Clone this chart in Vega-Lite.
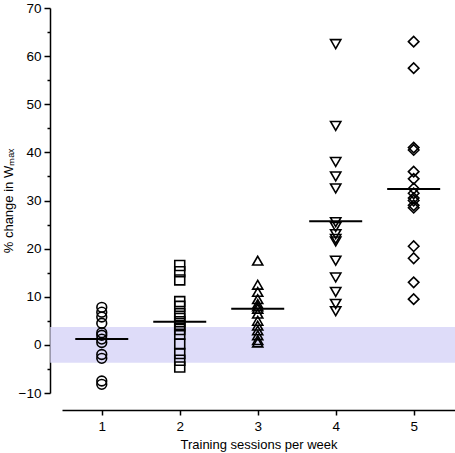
{
  "$schema": "https://vega.github.io/schema/vega-lite/v6.json",
  "width": 393,
  "height": 385,
  "autosize": {"type": "none"},
  "padding": {"left": 62, "top": 8, "right": 0, "bottom": 60},
  "background": "white",
  "config": {
    "view": {"stroke": null},
    "axis": {"labelFont": "Liberation Sans", "titleFont": "Liberation Sans", "labelFontSize": 13.5, "titleFontSize": 13, "titleFontWeight": "normal", "labelColor": "black", "titleColor": "black", "domainColor": "black", "tickColor": "black", "domainWidth": 1.5, "tickWidth": 1.5, "grid": false}
  },
  "datasets": {
    "pts": [
      {"s": 1, "g": "1", "v": 7.8}, {"s": 1, "g": "1", "v": 6.8}, {"s": 1, "g": "1", "v": 5.8}, {"s": 1, "g": "1", "v": 4.5},
      {"s": 1, "g": "1", "v": 2.5}, {"s": 1, "g": "1", "v": 2.0}, {"s": 1, "g": "1", "v": 1.2}, {"s": 1, "g": "1", "v": 0.5},
      {"s": 1, "g": "1", "v": -2.0}, {"s": 1, "g": "1", "v": -2.8}, {"s": 1, "g": "1", "v": -7.5}, {"s": 1, "g": "1", "v": -8.2},
      {"s": 2, "g": "2", "v": 16.5}, {"s": 2, "g": "2", "v": 15.2}, {"s": 2, "g": "2", "v": 13.5}, {"s": 2, "g": "2", "v": 9.0},
      {"s": 2, "g": "2", "v": 8.0}, {"s": 2, "g": "2", "v": 6.5}, {"s": 2, "g": "2", "v": 5.5}, {"s": 2, "g": "2", "v": 4.8},
      {"s": 2, "g": "2", "v": 4.0}, {"s": 2, "g": "2", "v": 3.2}, {"s": 2, "g": "2", "v": 2.2}, {"s": 2, "g": "2", "v": 0.2},
      {"s": 2, "g": "2", "v": -1.8}, {"s": 2, "g": "2", "v": -3.2}, {"s": 2, "g": "2", "v": -4.6},
      {"s": 3, "g": "3", "v": 17.5}, {"s": 3, "g": "3", "v": 12.5}, {"s": 3, "g": "3", "v": 11.0}, {"s": 3, "g": "3", "v": 9.5},
      {"s": 3, "g": "3", "v": 8.5}, {"s": 3, "g": "3", "v": 8.0}, {"s": 3, "g": "3", "v": 7.5}, {"s": 3, "g": "3", "v": 6.5},
      {"s": 3, "g": "3", "v": 5.0}, {"s": 3, "g": "3", "v": 4.0}, {"s": 3, "g": "3", "v": 3.0}, {"s": 3, "g": "3", "v": 2.0},
      {"s": 3, "g": "3", "v": 1.0}, {"s": 3, "g": "3", "v": 0.5},
      {"s": 4, "g": "4", "v": 62.5}, {"s": 4, "g": "4", "v": 45.5}, {"s": 4, "g": "4", "v": 38.0}, {"s": 4, "g": "4", "v": 35.0},
      {"s": 4, "g": "4", "v": 32.5}, {"s": 4, "g": "4", "v": 25.5}, {"s": 4, "g": "4", "v": 24.5}, {"s": 4, "g": "4", "v": 23.0},
      {"s": 4, "g": "4", "v": 22.0}, {"s": 4, "g": "4", "v": 21.5}, {"s": 4, "g": "4", "v": 17.5}, {"s": 4, "g": "4", "v": 14.0},
      {"s": 4, "g": "4", "v": 11.0}, {"s": 4, "g": "4", "v": 8.5}, {"s": 4, "g": "4", "v": 7.0},
      {"s": 5, "g": "5", "v": 63.0}, {"s": 5, "g": "5", "v": 57.5}, {"s": 5, "g": "5", "v": 41.0}, {"s": 5, "g": "5", "v": 40.5},
      {"s": 5, "g": "5", "v": 36.0}, {"s": 5, "g": "5", "v": 34.5}, {"s": 5, "g": "5", "v": 32.5}, {"s": 5, "g": "5", "v": 31.5},
      {"s": 5, "g": "5", "v": 30.5}, {"s": 5, "g": "5", "v": 30.0}, {"s": 5, "g": "5", "v": 29.0}, {"s": 5, "g": "5", "v": 28.5},
      {"s": 5, "g": "5", "v": 20.5}, {"s": 5, "g": "5", "v": 18.0}, {"s": 5, "g": "5", "v": 13.0}, {"s": 5, "g": "5", "v": 9.5}
    ],
    "means": [
      {"s": 1, "m": 1.2}, {"s": 2, "m": 4.8}, {"s": 3, "m": 7.5}, {"s": 4, "m": 25.7}, {"s": 5, "m": 32.4}
    ],
    "band": [
      {"x1": 0.34, "x2": 5.53, "lo": -3.7, "hi": 3.7}
    ]
  },
  "layer": [
    {
      "data": {"name": "band"},
      "mark": {"type": "rect", "color": "#dedcf9", "clip": false},
      "encoding": {
        "x": {"field": "x1", "type": "quantitative", "scale": {"domain": [0.49, 5.53], "nice": false, "zero": false},
              "axis": {"values": [1, 2, 3, 4, 5], "format": "d", "title": "Training sessions per week", "offset": 17, "tickSize": 5, "labelPadding": 4, "titlePadding": 6}},
        "x2": {"field": "x2"},
        "y": {"field": "lo", "type": "quantitative", "scale": {"domain": [-10, 70], "nice": false, "zero": false},
              "axis": {"values": [-5, 5, 15, 25, 35, 45, 55, 65], "labels": false, "domain": false, "tickSize": 3, "title": null, "offset": 12, "orient": "left"}},
        "y2": {"field": "hi"}
      }
    },
    {
      "data": {"name": "pts"},
      "mark": {"type": "point", "filled": false, "stroke": "black", "strokeWidth": 1.6, "opacity": 1},
      "encoding": {
        "x": {"field": "s", "type": "quantitative"},
        "y": {"field": "v", "type": "quantitative",
              "axis": {"values": [-10, 0, 10, 20, 30, 40, 50, 60, 70], "title": "% change in Wₘₐₓ", "offset": 12, "tickSize": 6, "labelPadding": 3, "titlePadding": 3, "orient": "left"}},
        "shape": {"field": "g", "type": "nominal", "scale": {"domain": ["1", "2", "3", "4", "5"], "range": ["circle", "square", "triangle-up", "triangle-down", "diamond"]}, "legend": null},
        "size": {"field": "g", "type": "nominal", "scale": {"domain": ["1", "2", "3", "4", "5"], "range": [95, 110, 105, 105, 105]}, "legend": null}
      }
    },
    {
      "data": {"name": "means"},
      "mark": {"type": "tick", "orient": "horizontal", "size": 53, "thickness": 2, "color": "black", "opacity": 1},
      "encoding": {
        "x": {"field": "s", "type": "quantitative"},
        "y": {"field": "m", "type": "quantitative", "axis": null}
      }
    }
  ],
  "resolve": {"axis": {"y": "independent"}}
}
